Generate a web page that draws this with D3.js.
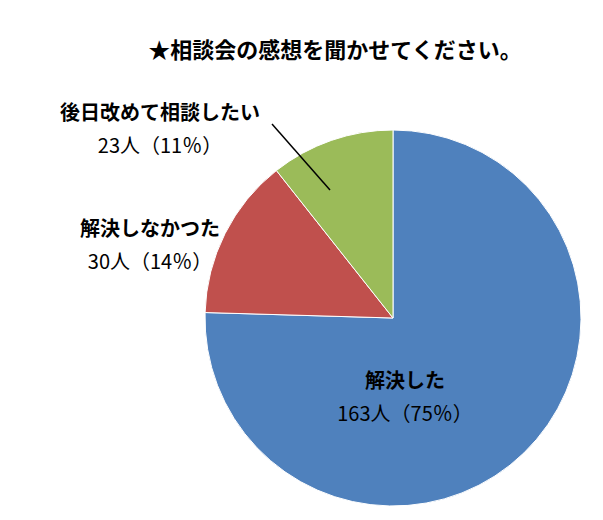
<!DOCTYPE html>
<html><head><meta charset="utf-8">
<script src="https://cdn.jsdelivr.net/npm/d3@7"></script>
<style>body{margin:0;background:#fff}text{font-family:"Noto Sans CJK JP",sans-serif;font-weight:bold;fill:#000}</style>
</head><body><svg id="c" width="603" height="520"></svg>
<script>
const categories = ["解決した", "解決しなかつた", "後日改めて相談したい"];
const counts = [163, 30, 23];
const percents = ["75", "14", "11"];
const colors = ["#4f81bd", "#c0504d", "#9bbb59"];
const title = "★相談会の感想を聞かせてください。";

const svg = d3.select("#c");
const cx = 393, cy = 318, r = 188;
const pie = d3.pie().sort(null).value(d => d)(counts);
const arc = d3.arc().innerRadius(0).outerRadius(r);
const g = svg.append("g").attr("transform", `translate(${cx},${cy})`);
g.selectAll("path").data(pie).join("path")
  .attr("d", arc).attr("fill", (d, i) => colors[i])
  .attr("stroke", "#fff").attr("stroke-width", 1);

svg.append("text").attr("x", 335).attr("y", 58).attr("text-anchor", "middle")
  .attr("font-size", 22).text(title);

const labelPos = [[405, 388], [150, 236], [160, 120]];
categories.forEach((c, i) => {
  const t = svg.append("text").attr("text-anchor", "middle").attr("font-size", 20);
  t.append("tspan").attr("x", labelPos[i][0]).attr("y", labelPos[i][1]).text(c);
  t.append("tspan").attr("x", labelPos[i][0]).attr("dy", 33)
    .attr("font-weight", "normal").text(`${counts[i]}人（${percents[i]}％）`);
});
svg.append("line").attr("x1", 272).attr("y1", 124).attr("x2", 330).attr("y2", 190)
  .attr("stroke", "#000").attr("stroke-width", 1.5);
</script></body></html>
